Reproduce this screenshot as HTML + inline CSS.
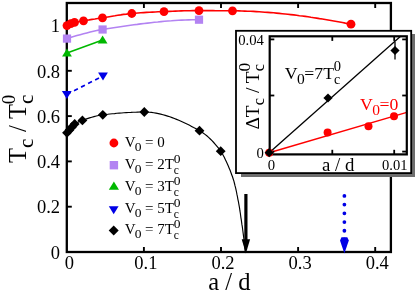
<!DOCTYPE html><html><head><meta charset="utf-8"><style>html,body{margin:0;padding:0;background:#fff}svg{display:block;transform:translateZ(0)}text{font-family:"Liberation Serif",serif}</style></head><body><svg width="415" height="291" viewBox="0 0 415 291"><polyline points="67.0,25.6 69.6,24.2 72.2,23.1 75.0,22.3 77.8,21.7 80.7,21.2 83.5,20.8 86.4,20.3 89.2,19.9 92.1,19.4 94.9,19.0 97.8,18.5 100.7,18.1 103.5,17.6 106.4,17.2 109.2,16.7 112.1,16.2 114.9,15.8 117.8,15.3 120.7,14.9 123.5,14.4 126.4,14.1 129.3,13.7 132.1,13.5 135.0,13.2 137.9,13.0 140.8,12.8 143.6,12.6 146.5,12.4 149.4,12.3 152.3,12.1 155.2,12.0 158.1,11.8 161.0,11.7 163.9,11.6 166.8,11.5 169.6,11.4 172.5,11.3 175.4,11.1 178.3,11.0 181.2,10.9 184.1,10.8 187.0,10.8 189.9,10.7 192.8,10.6 195.7,10.6 198.5,10.6 201.4,10.6 204.3,10.6 207.2,10.6 210.1,10.6 213.0,10.6 215.9,10.7 218.8,10.7 221.7,10.7 224.6,10.7 227.5,10.8 230.3,10.8 233.2,10.8 236.1,10.8 239.0,10.9 241.9,11.0 244.8,11.1 247.6,11.2 250.5,11.3 253.4,11.4 256.3,11.6 259.2,11.8 262.0,12.0 264.9,12.2 267.8,12.4 270.7,12.6 273.6,12.8 276.4,13.1 279.3,13.4 282.2,13.7 285.1,14.0 287.9,14.3 290.8,14.6 293.7,14.9 296.6,15.3 299.4,15.7 302.3,16.0 305.2,16.4 308.0,16.8 310.9,17.3 313.8,17.7 316.6,18.1 319.5,18.6 322.4,19.0 325.2,19.5 328.1,20.0 331.0,20.5 333.8,21.0 336.7,21.5 339.6,22.0 342.4,22.5 345.3,23.1 348.1,23.6 351.0,24.2" fill="none" stroke="#ff0000" stroke-width="1.6"/>
<polyline points="67.0,38.6 70.3,37.6 73.6,36.6 76.9,35.6 80.2,34.7 83.5,33.8 86.8,32.9 90.2,32.0 93.5,31.2 96.8,30.5 100.2,29.9 103.5,29.4 106.9,28.8 110.3,28.3 113.6,27.8 117.0,27.3 120.4,26.8 123.7,26.3 127.1,25.8 130.5,25.3 133.9,24.8 137.3,24.4 140.7,23.9 144.1,23.5 147.5,23.1 150.9,22.7 154.3,22.3 157.7,22.0 161.1,21.6 164.5,21.3 167.9,21.0 171.4,20.8 174.8,20.5 178.3,20.3 181.7,20.1 185.1,20.0 188.6,19.9 192.1,19.8 195.5,19.7 199.0,19.7" fill="none" stroke="#b383f2" stroke-width="1.6"/>
<polyline points="67.0,53.0 102.6,40.0" fill="none" stroke="#00b800" stroke-width="1.6"/>
<line x1="67" y1="94.3" x2="99" y2="78" stroke="#0000e6" stroke-width="1.7" stroke-dasharray="4.3,3.6"/>
<polyline points="67.0,132.8 68.6,131.1 70.1,129.3 71.5,127.5 73.0,125.7 74.6,124.1 76.5,122.9 78.6,121.9 80.8,121.0 83.0,120.2 85.2,119.4 87.3,118.6 89.6,117.9 91.8,117.2 94.0,116.6 96.3,116.0 98.6,115.5 100.8,115.1 103.1,114.8 105.4,114.5 107.6,114.3 109.9,114.0 112.3,113.8 114.6,113.6 116.9,113.3 119.2,113.1 121.6,113.0 123.9,112.8 126.2,112.6 128.6,112.5 130.9,112.4 133.2,112.2 135.5,112.2 137.8,112.1 140.1,112.0 142.4,112.0 144.6,112.0 146.9,112.1 149.2,112.2 151.5,112.4 153.7,112.7 156.0,113.1 158.4,113.6 160.7,114.1 163.0,114.7 165.3,115.4 167.6,116.1 169.8,116.8 172.1,117.6 174.4,118.5 176.6,119.4 178.8,120.3 181.0,121.3 183.2,122.3 185.3,123.3 187.5,124.3 189.6,125.3 191.6,126.4 193.6,127.5 195.6,128.5 197.5,129.6 199.4,130.7 201.3,131.8 203.1,133.0 205.0,134.4 206.8,135.8 208.6,137.4 210.3,139.0 212.0,140.7 213.7,142.5 215.3,144.3 216.8,146.1 218.3,147.9 219.7,149.7 221.0,151.6 222.2,153.5 223.3,155.5 224.4,157.5 225.4,159.7 226.4,161.8 227.4,163.9 228.3,166.0 229.2,168.2 230.1,170.3 230.9,172.5 231.7,174.7 232.5,176.8 233.2,179.0 233.9,181.2 234.5,183.5 235.0,185.7 235.6,187.9 236.1,190.2 236.6,192.5 237.0,194.7 237.5,197.0 237.9,199.3 238.4,201.6 238.8,203.9 239.2,206.1 239.6,208.4 239.9,210.7 240.3,213.0 240.6,215.3 240.9,217.6 241.3,219.9 241.6,222.1 241.9,224.4 242.3,226.7 242.6,229.0 242.9,231.3 243.2,233.6 243.5,235.9 243.8,238.2 244.1,240.5 244.3,242.8 244.5,245.1 244.8,247.4 245.0,249.7 245.2,252.0" fill="none" stroke="#000" stroke-width="1.15"/>
<rect x="66.8" y="3" width="324.09999999999997" height="249" fill="none" stroke="#000" stroke-width="2.3"/>
<line x1="143.89999999999998" y1="252" x2="143.89999999999998" y2="247" stroke="#000" stroke-width="1.9"/>
<line x1="143.89999999999998" y1="3" x2="143.89999999999998" y2="8" stroke="#000" stroke-width="1.9"/>
<line x1="221.0" y1="252" x2="221.0" y2="247" stroke="#000" stroke-width="1.9"/>
<line x1="221.0" y1="3" x2="221.0" y2="8" stroke="#000" stroke-width="1.9"/>
<line x1="298.09999999999997" y1="252" x2="298.09999999999997" y2="247" stroke="#000" stroke-width="1.9"/>
<line x1="298.09999999999997" y1="3" x2="298.09999999999997" y2="8" stroke="#000" stroke-width="1.9"/>
<line x1="375.2" y1="252" x2="375.2" y2="247" stroke="#000" stroke-width="1.9"/>
<line x1="375.2" y1="3" x2="375.2" y2="8" stroke="#000" stroke-width="1.9"/>
<line x1="66.8" y1="206.7" x2="71.8" y2="206.7" stroke="#000" stroke-width="1.9"/>
<line x1="66.8" y1="161.4" x2="71.8" y2="161.4" stroke="#000" stroke-width="1.9"/>
<line x1="66.8" y1="116.10000000000002" x2="71.8" y2="116.10000000000002" stroke="#000" stroke-width="1.9"/>
<line x1="66.8" y1="70.80000000000001" x2="71.8" y2="70.80000000000001" stroke="#000" stroke-width="1.9"/>
<line x1="66.8" y1="25.5" x2="71.8" y2="25.5" stroke="#000" stroke-width="1.9"/>
<circle cx="67" cy="25.6" r="4.4" fill="#ff0000"/><circle cx="70.8" cy="23.7" r="4.4" fill="#ff0000"/><circle cx="74.5" cy="22.4" r="4.4" fill="#ff0000"/><circle cx="83.5" cy="20.8" r="4.4" fill="#ff0000"/><circle cx="102.5" cy="17.8" r="4.4" fill="#ff0000"/><circle cx="131.8" cy="13.5" r="4.4" fill="#ff0000"/><circle cx="164" cy="11.6" r="4.4" fill="#ff0000"/><circle cx="199" cy="10.6" r="4.4" fill="#ff0000"/><circle cx="232.5" cy="10.8" r="4.4" fill="#ff0000"/><circle cx="351" cy="24.2" r="4.4" fill="#ff0000"/>
<rect x="62.9" y="34.5" width="8.2" height="8.2" fill="#b383f2"/><rect x="98.5" y="25.4" width="8.2" height="8.2" fill="#b383f2"/><rect x="194.9" y="15.6" width="8.2" height="8.2" fill="#b383f2"/>
<polygon points="62.1,56.381 71.9,56.381 67,48.394" fill="#00b800"/><polygon points="97.69999999999999,43.381 107.5,43.381 102.6,35.394" fill="#00b800"/>
<polygon points="61.9,91.119 71.7,91.119 66.8,99.106" fill="#0000e6"/><polygon points="98.1,72.619 107.9,72.619 103,80.606" fill="#0000e6"/>
<polygon points="62.1,132.8 67,127.9 71.9,132.8 67,137.70000000000002" fill="#000"/><polygon points="64.6,130 69.5,125.1 74.4,130 69.5,134.9" fill="#000"/><polygon points="67.1,127 72,122.1 76.9,127 72,131.9" fill="#000"/><polygon points="69.8,124 74.7,119.1 79.60000000000001,124 74.7,128.9" fill="#000"/><polygon points="77.5,120.4 82.4,115.5 87.30000000000001,120.4 82.4,125.30000000000001" fill="#000"/><polygon points="97.89999999999999,114.8 102.8,109.89999999999999 107.7,114.8 102.8,119.7" fill="#000"/><polygon points="139.4,112 144.3,107.1 149.20000000000002,112 144.3,116.9" fill="#000"/><polygon points="194.6,130.7 199.5,125.79999999999998 204.4,130.7 199.5,135.6" fill="#000"/><polygon points="215.79999999999998,151.2 220.7,146.29999999999998 225.6,151.2 220.7,156.1" fill="#000"/>
<text x="69.3" y="269.0" font-size="18.5" text-anchor="middle" >0</text>
<text x="145.89999999999998" y="269.0" font-size="18.5" text-anchor="middle" >0.1</text>
<text x="223.0" y="269.0" font-size="18.5" text-anchor="middle" >0.2</text>
<text x="300.09999999999997" y="269.0" font-size="18.5" text-anchor="middle" >0.3</text>
<text x="377.2" y="269.0" font-size="18.5" text-anchor="middle" >0.4</text>
<text x="60" y="258.5" font-size="18.5" text-anchor="end" >0</text>
<text x="60" y="213.0" font-size="18.5" text-anchor="end" >0.2</text>
<text x="60" y="168.0" font-size="18.5" text-anchor="end" >0.4</text>
<text x="60" y="123.2" font-size="18.5" text-anchor="end" >0.6</text>
<text x="60" y="77.7" font-size="18.5" text-anchor="end" >0.8</text>
<text x="60" y="32.0" font-size="18.5" text-anchor="end" >1</text>
<text x="208.3" y="289.7" font-size="24.5" word-spacing="0" >a / d</text>
<text transform="translate(26.3,163) rotate(-90)" font-size="24.5" word-spacing="0.5" >T<tspan font-size="21" dy="7">c</tspan><tspan dy="-7"> / T</tspan><tspan font-size="21" dy="7">c</tspan><tspan font-size="19" dy="-18.5" dx="-9.5">0</tspan></text>
<line x1="245.9" y1="194" x2="245.9" y2="241" stroke="#000" stroke-width="3.2"/><polygon points="241.7,239.2 250.1,239.2 245.9,253.6" fill="#000"/>
<line x1="344.4" y1="195.9" x2="344.4" y2="240" stroke="#0000e6" stroke-width="3.8" stroke-linecap="round" stroke-dasharray="0.01,8.7"/><polygon points="340,240.5 341.5,237.3 347.3,237.3 348.8,240.5 344.4,253.6" fill="#0000e6"/>
<circle cx="113.9" cy="143" r="4.4" fill="#ff0000"/>
<rect x="109.7" y="161.0" width="8.4" height="8.4" fill="#b383f2"/>
<polygon points="108.80000000000001,189.81900000000002 119.0,189.81900000000002 113.9,181.506" fill="#00b800"/>
<polygon points="108.8,206.319 118.60000000000001,206.319 113.7,214.30599999999998" fill="#0000e6"/>
<polygon points="108.7,230.6 113.7,225.6 118.7,230.6 113.7,235.6" fill="#000"/>
<text x="124.7" y="146.9" font-size="15" >V<tspan font-size="13.5" dy="4" dx="-0.8">0</tspan><tspan dy="-4" dx="-0.3"> = 0</tspan></text>
<text x="124.7" y="169.3" font-size="15" >V<tspan font-size="13.5" dy="4" dx="-0.8">0</tspan><tspan dy="-4" dx="-0.3"> = 2T</tspan><tspan font-size="11.5" dy="4.5">c</tspan><tspan font-size="13.5" dy="-11" dx="-5.2">0</tspan></text>
<text x="124.7" y="191.3" font-size="15" >V<tspan font-size="13.5" dy="4" dx="-0.8">0</tspan><tspan dy="-4" dx="-0.3"> = 3T</tspan><tspan font-size="11.5" dy="4.5">c</tspan><tspan font-size="13.5" dy="-11" dx="-5.2">0</tspan></text>
<text x="124.7" y="213" font-size="15" >V<tspan font-size="13.5" dy="4" dx="-0.8">0</tspan><tspan dy="-4" dx="-0.3"> = 5T</tspan><tspan font-size="11.5" dy="4.5">c</tspan><tspan font-size="13.5" dy="-11" dx="-5.2">0</tspan></text>
<text x="124.7" y="234.2" font-size="15" >V<tspan font-size="13.5" dy="4" dx="-0.8">0</tspan><tspan dy="-4" dx="-0.3"> = 7T</tspan><tspan font-size="11.5" dy="4.5">c</tspan><tspan font-size="13.5" dy="-11" dx="-5.2">0</tspan></text>
<rect x="241" y="34" width="174" height="143" fill="#6e6e6e"/>
<rect x="236" y="30.8" width="175.2" height="142.3" fill="#fff" stroke="#000" stroke-width="1.8"/>
<line x1="269.2" y1="152.7" x2="400.6" y2="36.3" stroke="#000" stroke-width="1.3"/>
<line x1="269.2" y1="152.7" x2="406.8" y2="112.4" stroke="#ff0000" stroke-width="1.5"/>
<rect x="269.7" y="36.3" width="137.10000000000002" height="118.10000000000001" fill="none" stroke="#000" stroke-width="2.2"/>
<line x1="332.3" y1="154.4" x2="332.3" y2="149.8" stroke="#000" stroke-width="1.8"/>
<line x1="332.3" y1="36.3" x2="332.3" y2="40.9" stroke="#000" stroke-width="1.8"/>
<line x1="394.2" y1="154.4" x2="394.2" y2="149.8" stroke="#000" stroke-width="1.8"/>
<line x1="394.2" y1="36.3" x2="394.2" y2="40.9" stroke="#000" stroke-width="1.8"/>
<line x1="269.7" y1="39.4" x2="274.3" y2="39.4" stroke="#000" stroke-width="1.8"/>
<line x1="406.8" y1="39.4" x2="402.2" y2="39.4" stroke="#000" stroke-width="1.8"/>
<line x1="269.7" y1="95.5" x2="274.3" y2="95.5" stroke="#000" stroke-width="1.8"/>
<line x1="406.8" y1="95.5" x2="402.2" y2="95.5" stroke="#000" stroke-width="1.8"/>
<line x1="269.7" y1="151.6" x2="274.3" y2="151.6" stroke="#000" stroke-width="1.8"/>
<line x1="406.8" y1="151.6" x2="402.2" y2="151.6" stroke="#000" stroke-width="1.8"/>
<circle cx="269.2" cy="152.7" r="4.0" fill="#ff0000"/><circle cx="327.6" cy="132.4" r="4.0" fill="#ff0000"/><circle cx="368.5" cy="126.2" r="4.0" fill="#ff0000"/><circle cx="394" cy="116.3" r="4.0" fill="#ff0000"/>
<line x1="395" y1="42" x2="395" y2="59.5" stroke="#000" stroke-width="1.3"/>
<polygon points="264.59999999999997,152.7 269.2,148.1 273.8,152.7 269.2,157.29999999999998" fill="#000"/><polygon points="323.4,98 328,93.4 332.6,98 328,102.6" fill="#000"/><polygon points="390.4,50.5 395,45.9 399.6,50.5 395,55.1" fill="#000"/>
<text x="284.8" y="79.2" font-size="17.7" >V<tspan font-size="15.5" dy="4.8" dx="-0.5">0</tspan><tspan dy="-4.8" dx="-0.5">=7T</tspan><tspan font-size="14" dy="4.5">c</tspan><tspan font-size="14.5" dy="-12.5" dx="-6.5">0</tspan></text>
<text x="360" y="110.4" font-size="17.7" fill="#ff0000" >V<tspan font-size="15.5" dy="4.8" dx="-0.5">0</tspan><tspan dy="-4.8" dx="-0.5">=0</tspan></text>
<text x="238.2" y="45.4" font-size="14.7" >0.04</text>
<text x="256.5" y="157.5" font-size="14.7" >0</text>
<text x="267.7" y="170" font-size="14.7" >0</text>
<text x="382" y="170.1" font-size="14.5" >0.01</text>
<text x="322" y="171" font-size="18.8" >a / d</text>
<text transform="translate(258.6,129.6) rotate(-90)" font-size="19.4" >ΔT<tspan font-size="16.5" dy="5.5">c</tspan><tspan dy="-5.5"> / T</tspan><tspan font-size="16.5" dy="5.5">c</tspan><tspan font-size="17.5" dy="-14.5" dx="-7.5">0</tspan></text></svg></body></html>
